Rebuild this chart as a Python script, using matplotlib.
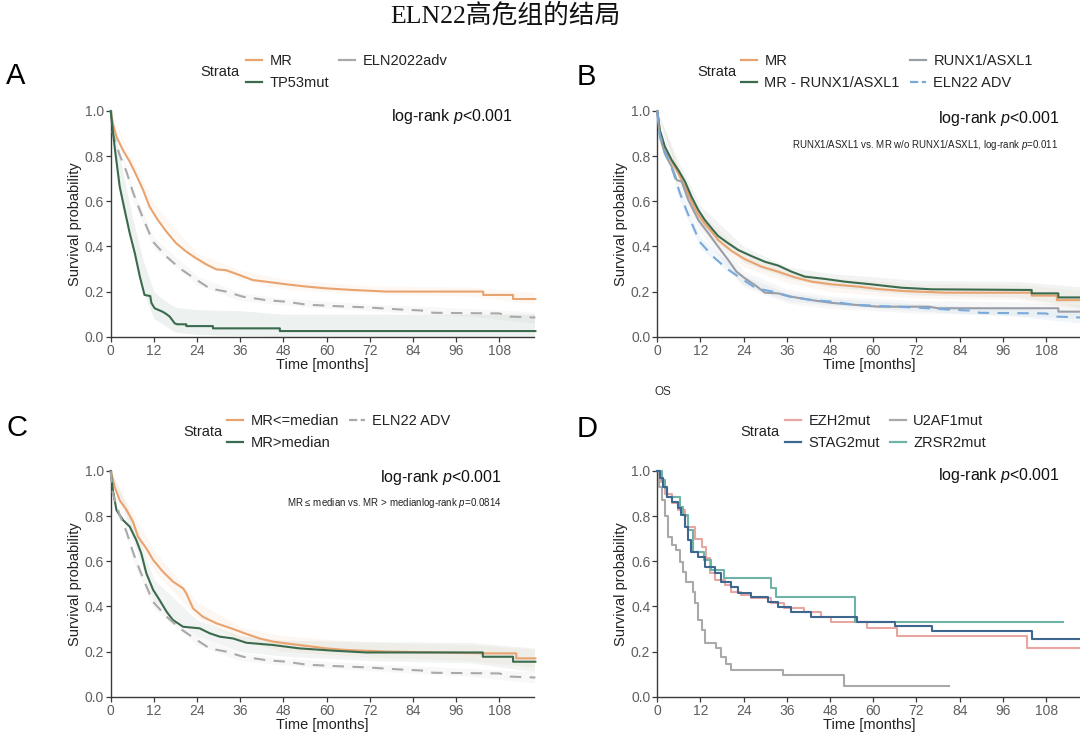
import numpy as np
import matplotlib
matplotlib.use("Agg")
import matplotlib.pyplot as plt
from matplotlib.lines import Line2D

plt.rcParams['font.family'] = ['Liberation Sans', 'DejaVu Sans']
plt.rcParams['mathtext.fontset'] = 'custom'
plt.rcParams['mathtext.it'] = 'Liberation Sans:italic'
plt.rcParams['mathtext.rm'] = 'Liberation Sans'

# ---- data (months, survival probability) ----
# shared groups
mr_t = [0, 0.6, 1.6, 3.4, 5.3, 7.1, 9.0, 10.8, 13.1, 15.5, 18.2, 21.0, 23.3, 26.6, 29.4, 32.0,
        35.8, 39.5, 45.0, 48.8, 54.4, 60.0, 67.3, 76.6, 103.5, 103.5, 111.8, 111.8, 118]
mr_s = [1.0, 0.945, 0.886, 0.827, 0.775, 0.716, 0.65, 0.576, 0.517, 0.465, 0.414, 0.377, 0.352, 0.32,
        0.298, 0.295, 0.273, 0.251, 0.24, 0.232, 0.222, 0.214, 0.207, 0.2, 0.2, 0.185, 0.185, 0.167, 0.167]
adv_t = [0, 0.6, 2.5, 4.4, 6.2, 8.1, 9.9, 11.8, 15.5, 19.2, 22.9, 27.5, 32, 36.8, 43.2, 48.8, 54.4,
         61.8, 71, 80, 87.7, 89.5, 108, 111, 118]
adv_s = [1.0, 0.9, 0.805, 0.73, 0.64, 0.56, 0.49, 0.42, 0.355, 0.303, 0.262, 0.214, 0.2, 0.177, 0.162,
         0.155, 0.142, 0.136, 0.13, 0.121, 0.115, 0.106, 0.103, 0.089, 0.085]

band_t = [0, 6, 12, 24, 36, 48, 72, 100, 118]
mr_lo = [1, 0.745, 0.54, 0.33, 0.255, 0.21, 0.19, 0.18, 0.145]
mr_hi = [1, 0.785, 0.59, 0.37, 0.295, 0.255, 0.225, 0.22, 0.195]
adv_lo = [1, 0.61, 0.39, 0.23, 0.16, 0.14, 0.115, 0.09, 0.06]
adv_hi = [1, 0.66, 0.44, 0.27, 0.195, 0.17, 0.145, 0.125, 0.11]

# A
tp53_t = [0, 1.1, 2.5, 3.9, 5.3, 6.7, 8.1, 9.4, 11.0, 11.3, 12.2, 14.5, 15.5, 16.4, 17.8, 18.5, 21.0,
          21.0, 28.4, 28.4, 47.0, 47.0, 118]
tp53_s = [1.0, 0.84, 0.665, 0.56, 0.458, 0.37, 0.266, 0.185, 0.18, 0.15, 0.126, 0.11, 0.10, 0.089,
          0.059, 0.055, 0.055, 0.047, 0.047, 0.037, 0.037, 0.025, 0.025]
tp53_band_t = [0, 3, 6, 9, 12, 15, 18, 24, 36, 48, 118]
tp53_lo = [1, 0.58, 0.39, 0.20, 0.08, 0.05, 0.02, 0.01, 0.005, 0, 0]
tp53_hi = [1, 0.76, 0.53, 0.34, 0.20, 0.16, 0.13, 0.12, 0.115, 0.10, 0.10]

# B
mrb_t = [0, 0.7, 2.1, 4.0, 5.8, 7.7, 9.5, 11.4, 13.2, 15.1, 16.9, 20.6, 24.4, 29.0, 33.6, 38.2, 42.9,
         48.4, 55.8, 61.4, 68.8, 80, 104, 104, 111, 111, 118]
mrb_s = [1.0, 0.91, 0.835, 0.775, 0.724, 0.665, 0.598, 0.54, 0.5, 0.465, 0.428, 0.38, 0.343, 0.31,
         0.288, 0.263, 0.244, 0.232, 0.222, 0.211, 0.202, 0.195, 0.195, 0.182, 0.182, 0.162, 0.162]
mrb_lo = [1, 0.70, 0.48, 0.31, 0.24, 0.20, 0.17, 0.165, 0.12]
mrb_hi = [1, 0.75, 0.55, 0.37, 0.29, 0.26, 0.235, 0.23, 0.205]
mrwo_t = [0, 0.7, 2.1, 4.0, 5.8, 7.7, 9.5, 11.4, 13.2, 15.1, 16.9, 19.7, 22.5, 26.2, 29.9, 33.6, 37.3,
          41.0, 46.6, 52.0, 59.5, 67.9, 76.2, 104, 104, 111.4, 111.4, 118]
mrwo_s = [1.0, 0.916, 0.842, 0.783, 0.739, 0.687, 0.62, 0.561, 0.517, 0.48, 0.446, 0.414, 0.384, 0.357,
          0.332, 0.315, 0.288, 0.266, 0.256, 0.244, 0.232, 0.217, 0.21, 0.207, 0.192, 0.192, 0.174, 0.174]
mrwo_lo = [1, 0.71, 0.50, 0.33, 0.26, 0.22, 0.185, 0.175, 0.13]
mrwo_hi = [1, 0.77, 0.58, 0.40, 0.31, 0.28, 0.25, 0.245, 0.22]
runx_t = [0, 0.7, 2.1, 4.0, 5.4, 6.8, 8.6, 11.4, 14.2, 16.9, 19.7, 22.0, 24.4, 27.1, 29.9, 33.6, 37.3,
          42.9, 48.4, 55.8, 61.4, 75.3, 78.0, 111.4, 111.4, 118]
runx_s = [1.0, 0.886, 0.81, 0.753, 0.694, 0.687, 0.606, 0.517, 0.458, 0.399, 0.34, 0.288, 0.258, 0.229,
          0.195, 0.192, 0.177, 0.162, 0.15, 0.14, 0.133, 0.133, 0.126, 0.126, 0.111, 0.111]
runx_lo = [1, 0.65, 0.46, 0.22, 0.15, 0.125, 0.105, 0.095, 0.08]
runx_hi = [1, 0.73, 0.54, 0.29, 0.21, 0.18, 0.16, 0.155, 0.14]

# C
mrlow_t = [0, 1.1, 2.5, 4.4, 6.2, 7.6, 9.9, 11.8, 14.5, 17.3, 20.1, 21.0, 22.9, 25.6, 29.4, 34.0, 37.7,
           41.4, 45.1, 48.8, 54.4, 60.0, 65.5, 76.6, 104, 112.7, 112.7, 118]
mrlow_s = [1.0, 0.93, 0.87, 0.827, 0.775, 0.709, 0.657, 0.606, 0.554, 0.51, 0.48, 0.458, 0.391, 0.354,
           0.325, 0.3, 0.278, 0.258, 0.244, 0.236, 0.225, 0.214, 0.207, 0.2, 0.192, 0.192, 0.17, 0.17]
mrlow_lo = [1, 0.74, 0.56, 0.35, 0.25, 0.20, 0.175, 0.16, 0.13]
mrlow_hi = [1, 0.82, 0.65, 0.42, 0.31, 0.27, 0.24, 0.23, 0.21]
mrhigh_t = [0, 0.6, 1.6, 3.4, 5.3, 7.1, 8.5, 9.9, 11.8, 13.6, 15.5, 17.3, 20.1, 24.7, 27.5, 30.3, 34.0,
            37.7, 45.1, 52.5, 61.8, 71.0, 103.4, 103.4, 111.8, 111.8, 118]
mrhigh_s = [1.0, 0.916, 0.827, 0.783, 0.753, 0.694, 0.635, 0.547, 0.473, 0.428, 0.377, 0.34, 0.31, 0.303,
            0.281, 0.266, 0.258, 0.239, 0.229, 0.214, 0.204, 0.196, 0.196, 0.177, 0.177, 0.155, 0.155]
mrhigh_lo = [1, 0.70, 0.43, 0.27, 0.20, 0.18, 0.16, 0.15, 0.11]
mrhigh_hi = [1, 0.79, 0.52, 0.34, 0.27, 0.25, 0.245, 0.24, 0.215]

# D (step curves)
stag2_t = [0, 0.8, 1.7, 2.6, 4.0, 5.8, 6.7, 7.6, 8.6, 9.5, 11.3, 13.2, 15.9, 17.8, 20.6, 22.4, 26.1,
           30.7, 33.5, 37.1, 42.7, 55.6, 66.0, 76.3, 104.0, 118]
stag2_s = [1.0, 0.97, 0.93, 0.886, 0.864, 0.835, 0.805, 0.753, 0.694, 0.643, 0.62, 0.576, 0.547, 0.51,
           0.487, 0.458, 0.443, 0.42, 0.399, 0.377, 0.355, 0.333, 0.315, 0.292, 0.256, 0.256]
ezh2_t = [0, 1.0, 2.1, 4.0, 5.8, 7.6, 8.6, 10.4, 12.3, 13.6, 14.6, 15.9, 18.7, 20.6, 23.3, 26.1, 31.6,
          35.3, 40.8, 45.4, 48.2, 58.3, 66.6, 102.6, 118]
ezh2_s = [1.0, 0.95, 0.9, 0.857, 0.827, 0.8, 0.753, 0.7, 0.665, 0.613, 0.547, 0.517, 0.495, 0.465, 0.45,
          0.436, 0.414, 0.391, 0.377, 0.355, 0.33, 0.303, 0.269, 0.214, 0.214]
u2af1_t = [0, 0.6, 1.2, 2.1, 3.0, 4.0, 5.3, 6.3, 7.2, 8.1, 9.9, 10.4, 11.3, 12.3, 13.2, 16.4, 17.8,
           19.1, 20.6, 34.8, 51.9, 80.9]
u2af1_s = [1.0, 0.93, 0.87, 0.8, 0.709, 0.672, 0.65, 0.598, 0.554, 0.51, 0.465, 0.414, 0.34, 0.295,
           0.236, 0.214, 0.177, 0.145, 0.118, 0.096, 0.047, 0.047]
zrsr2_t = [0, 1.2, 2.1, 2.8, 6.2, 7.2, 8.5, 10.0, 13.0, 15.0, 18.5, 31.6, 33.0, 55.0, 112.7]
zrsr2_s = [1.0, 0.96, 0.923, 0.886, 0.842, 0.805, 0.739, 0.643, 0.606, 0.56, 0.524, 0.48, 0.443, 0.332, 0.332]

ORANGE = '#E9A36F'
GREEN = '#3B6B4E'
GREY = '#A9A9A9'
BLUE = '#79A9D9'
GREY2 = '#9A9EA6'
PINK = '#E8A6A2'
NAVY = '#3E6790'
TEAL = '#6FB3A6'
DASH = (0, (5.5, 4))

W, H = 1080, 737
fig = plt.figure(figsize=(W / 100, H / 100), dpi=100)


def px_axes(x0, y_top, x1, y_bottom):
    return fig.add_axes([x0 / W, 1 - y_bottom / H, (x1 - x0) / W, (y_bottom - y_top) / H])


def ftext(x, y, s, **kw):
    return fig.text(x / W, 1 - y / H, s, **kw)


def style(ax):
    ax.set_xlim(0, 117.7)
    ax.set_ylim(0, 1)
    ax.set_xticks(range(0, 109, 12))
    ax.set_yticks([0, 0.2, 0.4, 0.6, 0.8, 1.0])
    ax.set_yticklabels(['0.0', '0.2', '0.4', '0.6', '0.8', '1.0'])
    for side in ['top', 'right']:
        ax.spines[side].set_visible(False)
    for side in ['left', 'bottom']:
        ax.spines[side].set_color('#3a3a3a')
        ax.spines[side].set_linewidth(1.0)
    ax.tick_params(length=3.5, width=0.9, color='#3a3a3a', labelcolor='#5f5f5f', labelsize=10, pad=1.5)
    ax.set_xlabel('Time [months]', fontsize=10.5, color='#222222', labelpad=0)
    ax.set_ylabel('Survival probability', fontsize=10.5, color='#222222', labelpad=2)
    ax.patch.set_alpha(0)


def curve(ax, t, s, color, ls='-', step=False, lo=None, hi=None, bt=band_t, alpha=0.1):
    if lo is not None:
        ax.fill_between(bt, lo, hi, color=color, alpha=alpha, lw=0, zorder=1)
    ax.plot(t, s, color=color, lw=1.5, ls=ls, zorder=3, clip_on=False,
            drawstyle='steps-post' if step else 'default')


def legend(items, x, y, strata_x):
    handles = [Line2D([], [], color=c, lw=1.6, ls=ls) for _, c, ls in items]
    labels = [lab for lab, _, _ in items]
    lg = fig.legend(handles, labels, ncol=2, loc='center left', bbox_to_anchor=(x / W, 1 - y / H),
                    frameon=False, fontsize=10.5, handlelength=1.1, handletextpad=0.5,
                    columnspacing=0.7, labelspacing=0.6, borderpad=0, borderaxespad=0)
    for tx in lg.get_texts():
        tx.set_color('#222222')
    ftext(strata_x, y, 'Strata', fontsize=10.5, color='#222222', va='center', ha='left')


# ---- panel A ----
axA = px_axes(110.7, 111, 534.3, 336.7)
style(axA)
curve(axA, mr_t, mr_s, ORANGE, lo=mr_lo, hi=mr_hi, alpha=0.07)
curve(axA, adv_t, adv_s, GREY, ls=DASH, lo=adv_lo, hi=adv_hi, alpha=0.08)
curve(axA, tp53_t, tp53_s, GREEN, lo=tp53_lo, hi=tp53_hi, bt=tp53_band_t, alpha=0.09)
ftext(513, 117, 'log-rank $p$<0.001', fontsize=11.5, color='#111111', ha='right', va='center')
legend([('MR', ORANGE, '-'), ('TP53mut', GREEN, '-'), ('ELN2022adv', GREY, '-')], 246, 72, 200)

# ---- panel B ----
axB = px_axes(657.3, 111, 1081, 336.7)
style(axB)
curve(axB, mrb_t, mrb_s, ORANGE, lo=mrb_lo, hi=mrb_hi, alpha=0.08)
curve(axB, mrwo_t, mrwo_s, GREEN, lo=mrwo_lo, hi=mrwo_hi, alpha=0.07)
curve(axB, runx_t, runx_s, GREY2, lo=runx_lo, hi=runx_hi, alpha=0.08)
curve(axB, adv_t, adv_s, BLUE, ls=DASH, lo=adv_lo, hi=adv_hi, alpha=0.1)
ftext(1060, 118, 'log-rank $p$<0.001', fontsize=11.5, color='#111111', ha='right', va='center')
ftext(1058, 145, 'RUNX1/ASXL1 vs. MR w/o RUNX1/ASXL1, log-rank $p$=0.011', fontsize=7,
      color='#222222', ha='right', va='center')
legend([('MR', ORANGE, '-'), ('MR - RUNX1/ASXL1', GREEN, '-'), ('RUNX1/ASXL1', GREY2, '-'),
        ('ELN22 ADV', BLUE, '--')], 741, 72, 697)

# ---- panel C ----
axC = px_axes(110.7, 471, 534.3, 696.7)
style(axC)
curve(axC, mrlow_t, mrlow_s, ORANGE, lo=mrlow_lo, hi=mrlow_hi, alpha=0.08)
curve(axC, mrhigh_t, mrhigh_s, GREEN, lo=mrhigh_lo, hi=mrhigh_hi, alpha=0.07)
curve(axC, adv_t, adv_s, GREY, ls=DASH, lo=adv_lo, hi=adv_hi, alpha=0.08)
ftext(502, 477, 'log-rank $p$<0.001', fontsize=11.5, color='#111111', ha='right', va='center')
ftext(502, 503, 'MR \u2264 median vs. MR > medianlog-rank $p$=0.0814', fontsize=7,
      color='#222222', ha='right', va='center')
legend([('MR<=median', ORANGE, '-'), ('MR>median', GREEN, '-'), ('ELN22 ADV', GREY, '--')], 227, 432, 183)

# ---- panel D ----
axD = px_axes(657.3, 471, 1081, 696.7)
style(axD)
curve(axD, ezh2_t, ezh2_s, PINK, step=True)
curve(axD, u2af1_t, u2af1_s, GREY, step=True)
curve(axD, zrsr2_t, zrsr2_s, TEAL, step=True)
curve(axD, stag2_t, stag2_s, NAVY, step=True)
ftext(1060, 476, 'log-rank $p$<0.001', fontsize=11.5, color='#111111', ha='right', va='center')
ftext(663, 392, 'OS', fontsize=8.5, color='#333333', ha='center', va='center')
legend([('EZH2mut', PINK, '-'), ('STAG2mut', NAVY, '-'), ('U2AF1mut', GREY, '-'),
        ('ZRSR2mut', TEAL, '-')], 785, 432, 740)

# ---- panel letters and title ----
for lab, x, y in [('A', 6, 76), ('B', 577, 77), ('C', 6, 428), ('D', 577, 429)]:
    ftext(x, y, lab, fontsize=21, color='#000000', ha='left', va='center')
ftext(505, 15, 'ELN22高危组的结局', fontsize=18.5, color='#111111', ha='center', va='center',
      family=['Liberation Serif', 'Noto Sans CJK SC'])

fig.savefig('out.png', dpi=100)
